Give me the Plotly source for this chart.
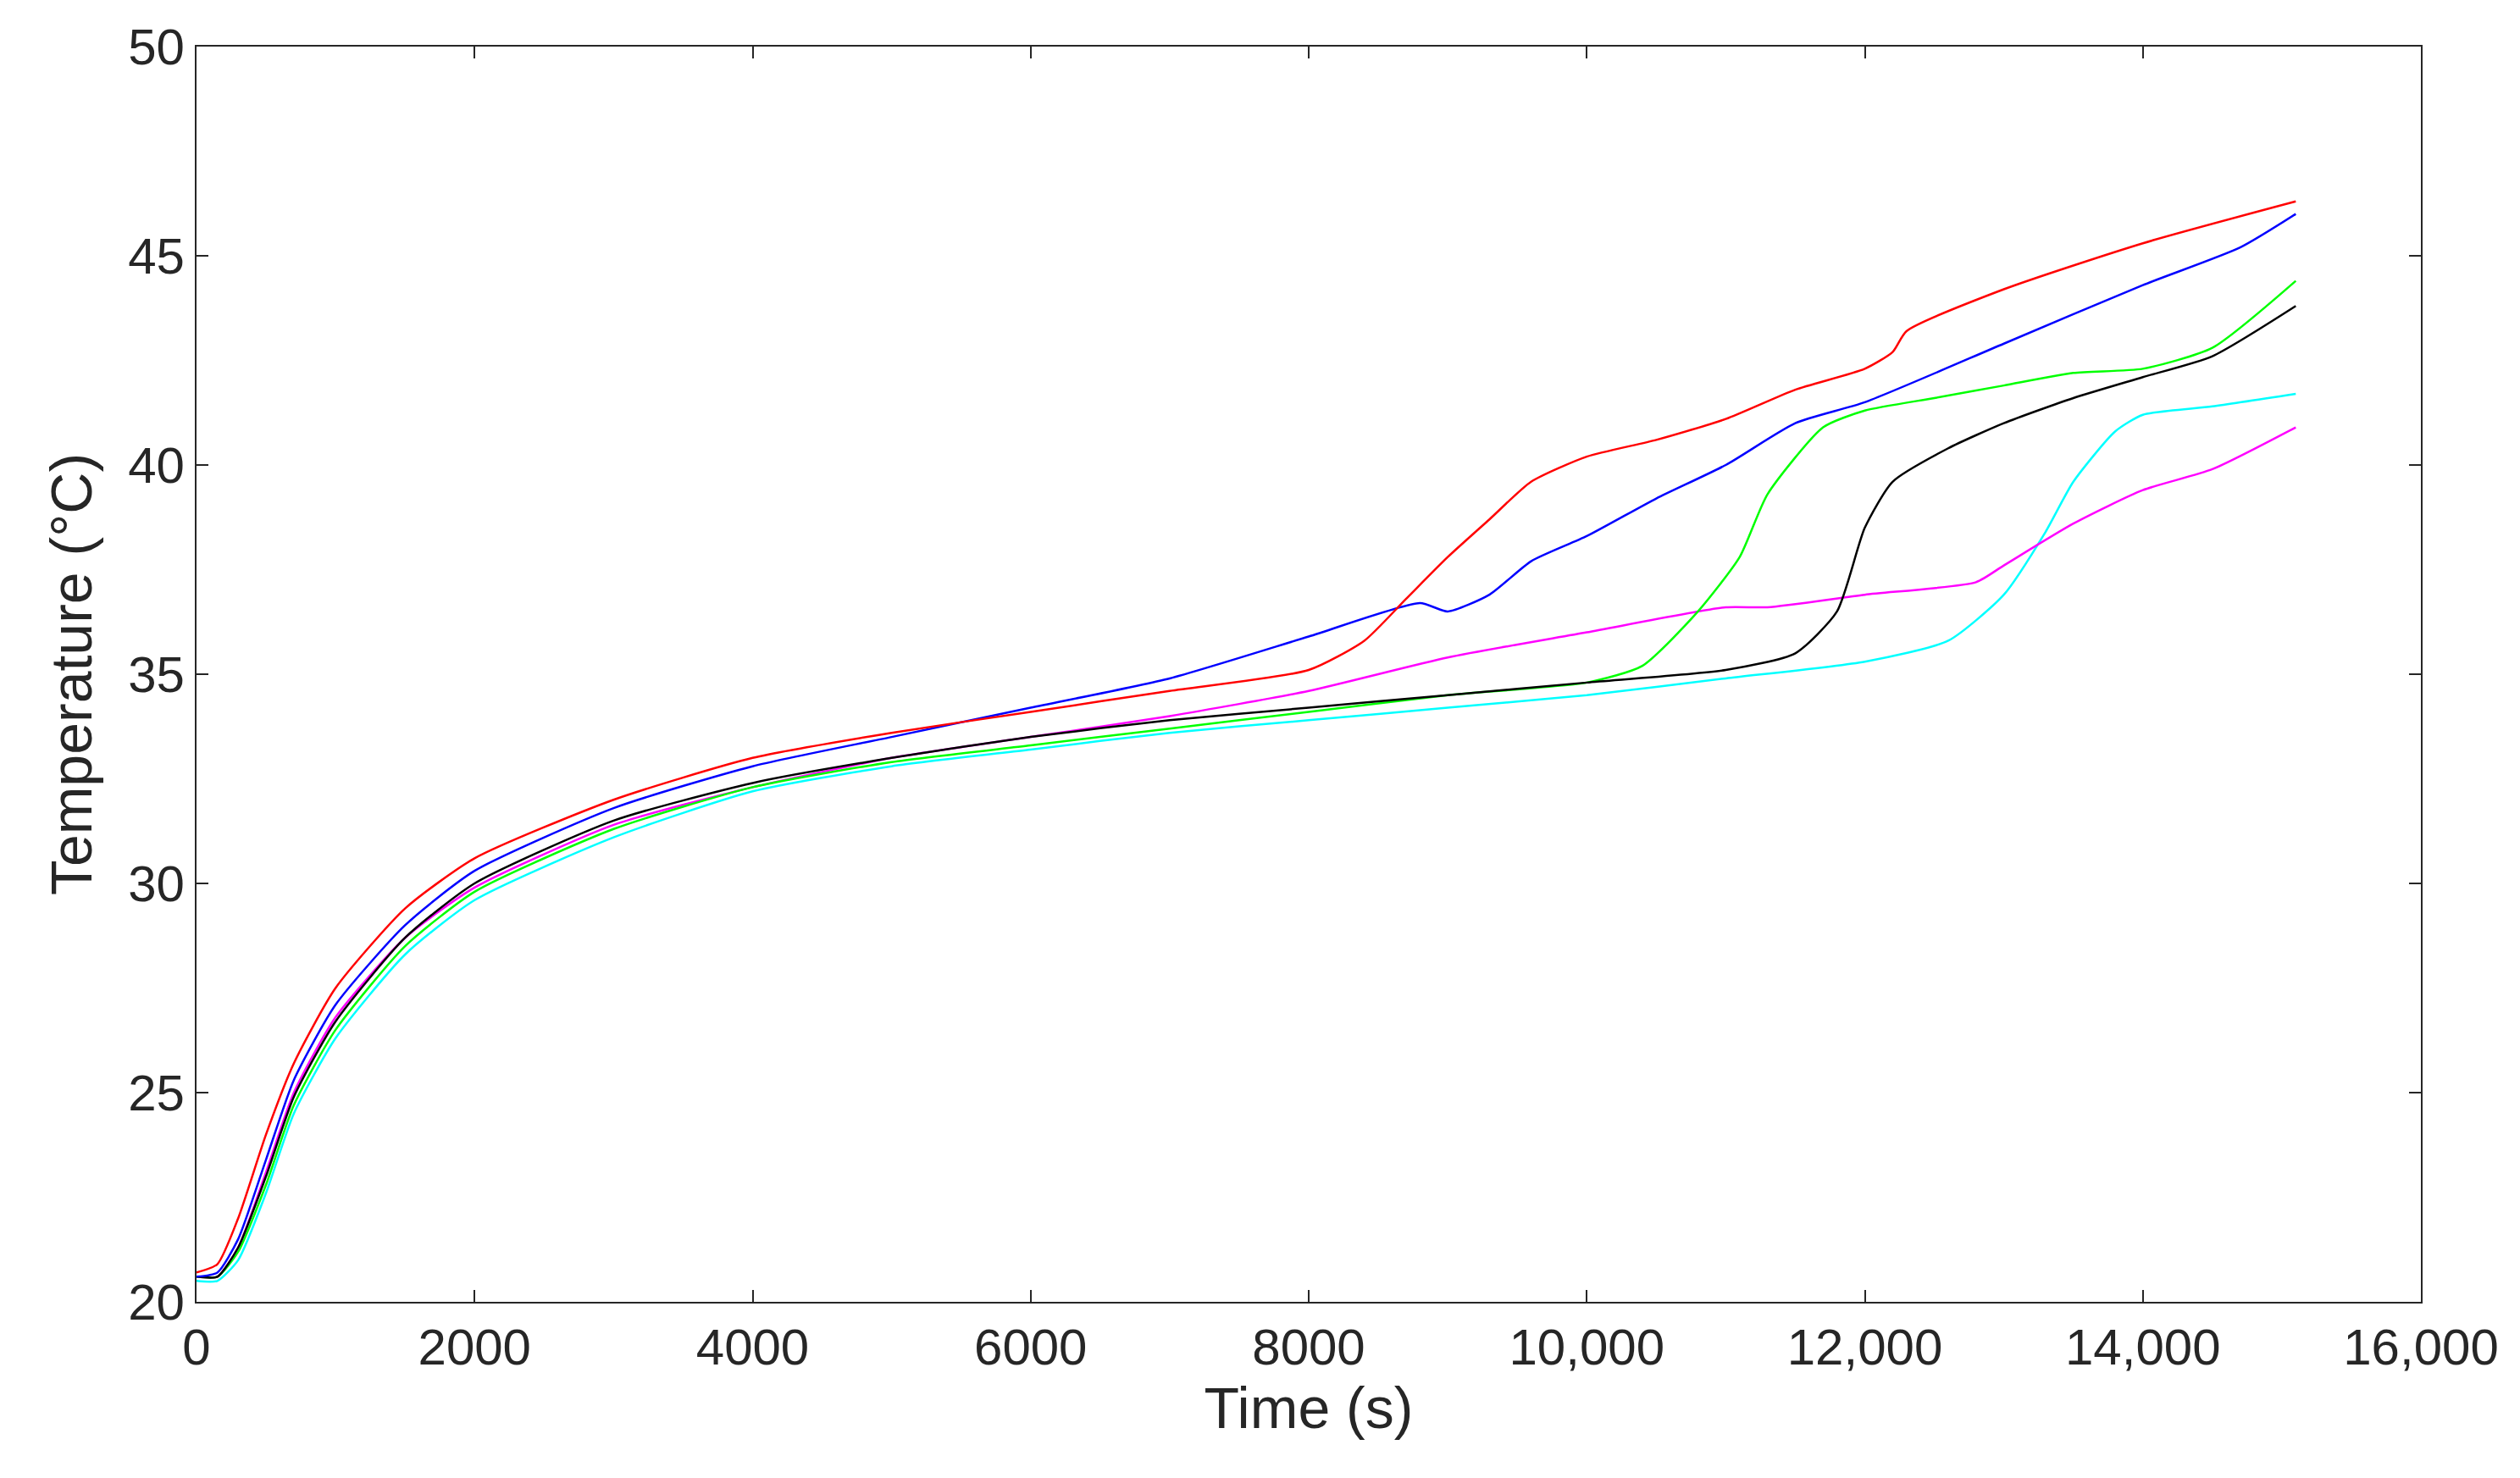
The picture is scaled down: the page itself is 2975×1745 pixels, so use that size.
import plotly.graph_objects as go

t_red = [0,150,300,500,700,1000,1500,2000,3000,4000,5000,6000,7000,8000,8400,8700,9000,9300,9600,10000,10500,11000,11500,12000,12200,12300,13000,14000,15100]
v_red = [20.7,20.9,22.0,24.0,25.7,27.5,29.4,30.6,32.0,33.0,33.6,34.1,34.6,35.1,35.8,36.8,37.8,38.7,39.6,40.2,40.6,41.1,41.8,42.3,42.7,43.2,44.2,45.3,46.3]
t_blue = [0,150,300,500,700,1000,1500,2000,3000,4000,5000,6000,7000,8000,8800,9000,9300,9600,10000,10500,11000,11500,12000,13000,14000,14700,15100]
v_blue = [20.6,20.7,21.5,23.4,25.3,27.1,29.0,30.3,31.8,32.8,33.5,34.2,34.9,35.9,36.7,36.5,36.9,37.7,38.3,39.2,40.0,41.0,41.5,42.9,44.3,45.2,46.0]
t_green = [0,150,300,500,700,1000,1500,2000,3000,4000,5000,6000,7000,8000,9000,10000,10400,10800,11100,11300,11700,12000,12500,13000,13500,14000,14500,15100]
v_green = [20.6,20.6,21.2,22.8,24.7,26.5,28.5,29.8,31.3,32.3,32.9,33.3,33.7,34.1,34.5,34.8,35.2,36.5,37.8,39.3,40.9,41.3,41.6,41.9,42.2,42.3,42.8,44.4]
t_black = [0,150,300,500,700,1000,1500,2000,3000,4000,5000,6000,7000,8000,9000,10000,11000,11500,11800,12000,12200,12600,13000,13500,14000,14500,15100]
v_black = [20.6,20.6,21.3,23.0,24.9,26.7,28.7,30.0,31.5,32.4,33.0,33.5,33.9,34.2,34.5,34.8,35.1,35.5,36.5,38.5,39.6,40.4,41.0,41.6,42.1,42.6,43.8]
t_magenta = [0,150,300,500,700,1000,1500,2000,3000,4000,5000,6000,7000,8000,9000,10000,11000,11300,12000,12800,13000,13500,14000,14500,15100]
v_magenta = [20.6,20.6,21.3,23.1,25.0,26.8,28.7,29.9,31.4,32.3,33.0,33.5,34.0,34.6,35.4,36.0,36.6,36.6,36.9,37.2,37.6,38.6,39.4,39.9,40.9]
t_cyan = [0,150,300,500,700,1000,1500,2000,3000,4000,5000,6000,7000,8000,9000,10000,11000,12000,12600,13000,13300,13500,13800,14000,14500,15100]
v_cyan = [20.5,20.5,21.0,22.6,24.5,26.3,28.3,29.6,31.1,32.2,32.8,33.2,33.6,33.9,34.2,34.5,34.9,35.3,35.8,36.9,38.4,39.6,40.8,41.2,41.4,41.7]

series = [(t_cyan,v_cyan,"#00FFFF"),(t_magenta,v_magenta,"#FF00FF"),(t_green,v_green,"#00FF00"),
          (t_black,v_black,"#000000"),(t_blue,v_blue,"#0000FF"),(t_red,v_red,"#FF0000")]

x_ticks = [0,2000,4000,6000,8000,10000,12000,14000,16000]
x_labels = ["0","2000","4000","6000","8000","10,000","12,000","14,000","16,000"]
y_ticks = [20,25,30,35,40,45,50]

fig = go.Figure()
for t, v, c in series:
    fig.add_trace(go.Scatter(x=t, y=v, mode="lines", line=dict(color=c, width=2.5, shape="spline", smoothing=0.6), showlegend=False))

axis_common = dict(showline=True, linecolor="#262626", linewidth=2, mirror="ticks", ticks="inside",
                   ticklen=14, tickwidth=2, tickcolor="#262626", showgrid=False, zeroline=False,
                   tickfont=dict(family="Liberation Sans, Arial", size=60, color="#262626"))
fig.update_xaxes(range=[0,16000], tickvals=x_ticks, ticktext=x_labels,
                 title=dict(text="Time (s)", font=dict(family="Liberation Sans, Arial", size=68, color="#262626"), standoff=10),
                 **axis_common)
fig.update_yaxes(range=[20,50], tickvals=y_ticks,
                 title=dict(text="Temperature (°C)", font=dict(family="Liberation Sans, Arial", size=68, color="#262626"), standoff=20),
                 **axis_common)
fig.update_layout(width=2975, height=1745, plot_bgcolor="white", paper_bgcolor="white",
                  margin=dict(l=224, r=125, t=47, b=216))
fig.write_html("out.html")
